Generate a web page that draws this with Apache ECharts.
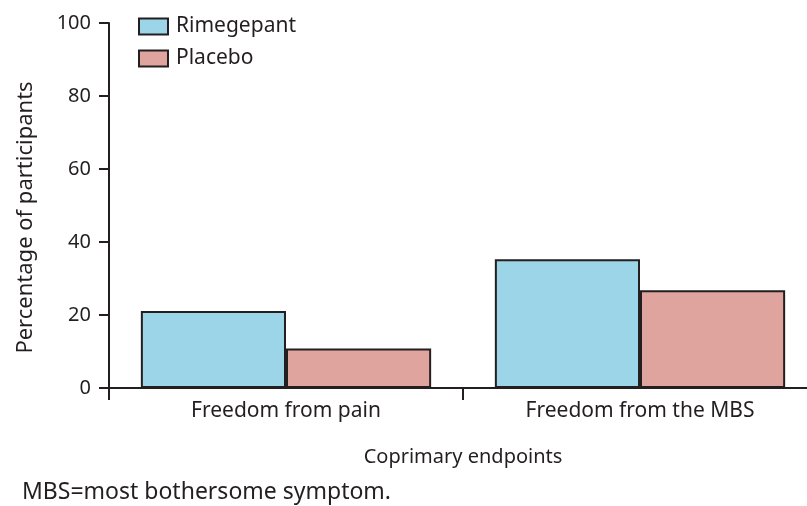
<!DOCTYPE html>
<html>
<head>
<meta charset="utf-8">
<script src="https://cdn.jsdelivr.net/npm/echarts@6/dist/echarts.min.js"></script>
<style>
  html, body { margin: 0; padding: 0; background: #fff; overflow: hidden; }
  /* the source figure's x axis runs past the right edge, so the chart is a bit wider than the window */
  #chart { width: 817px; height: 506px; }
</style>
</head>
<body>
<div id="chart"></div>
<script>
// data
const categories = ['Freedom from pain', 'Freedom from the MBS']
const rimegepant = [21.1, 35.3]
const placebo = [10.8, 26.8]
const yTicks = [0, 20, 40, 60, 80, 100]

const textColor = '#231f20'
const font = 'Noto Sans'

const chart = echarts.init(document.getElementById('chart'))
chart.setOption({
  animation: false,
  textStyle: { fontFamily: font, color: textColor },
  grid: { left: 109, top: 23, right: 0, bottom: 118 },
  legend: {
    orient: 'vertical',
    left: 133,
    top: 11,
    icon: 'rect',
    itemWidth: 29,
    itemHeight: 16,
    itemGap: 11,
    textStyle: { fontSize: 21, color: textColor, fontFamily: font, padding: [0, 0, 0, 3] },
    data: ['Rimegepant', 'Placebo']
  },
  xAxis: {
    type: 'category',
    data: categories,
    name: 'Coprimary endpoints',
    nameLocation: 'middle',
    nameGap: 59,
    nameTextStyle: { fontSize: 20, color: textColor },
    axisLine: { lineStyle: { color: textColor, width: 2 } },
    axisTick: { show: true, length: 12, interval: 0, lineStyle: { color: textColor, width: 2 } },
    axisLabel: { fontSize: 21, color: textColor, margin: 13, interval: 0 }
  },
  yAxis: {
    type: 'value',
    min: yTicks[0],
    max: yTicks[yTicks.length - 1],
    interval: 20,
    name: 'Percentage of participants',
    nameLocation: 'middle',
    nameGap: 72,
    nameTextStyle: { fontSize: 22, color: textColor, padding: [0, 24, 0, 0] },
    axisLine: { show: true, lineStyle: { color: textColor, width: 2 } },
    axisTick: { show: true, length: 10, lineStyle: { color: textColor, width: 2 } },
    axisLabel: { fontSize: 20, color: textColor, margin: 18 },
    splitLine: { show: false }
  },
  series: [
    {
      name: 'Rimegepant',
      type: 'bar',
      data: rimegepant,
      barGap: 0,
      barCategoryGap: '18%',
      itemStyle: { color: '#9dd5e8', borderColor: textColor, borderWidth: 2 }
    },
    {
      name: 'Placebo',
      type: 'bar',
      data: placebo,
      itemStyle: { color: '#e0a49e', borderColor: textColor, borderWidth: 2 }
    }
  ],
  graphic: [{
    type: 'text',
    left: 22,
    top: 481,
    style: { text: 'MBS=most bothersome symptom.', fontSize: 23, fill: textColor, fontFamily: font }
  }]
})
</script>
</body>
</html>
